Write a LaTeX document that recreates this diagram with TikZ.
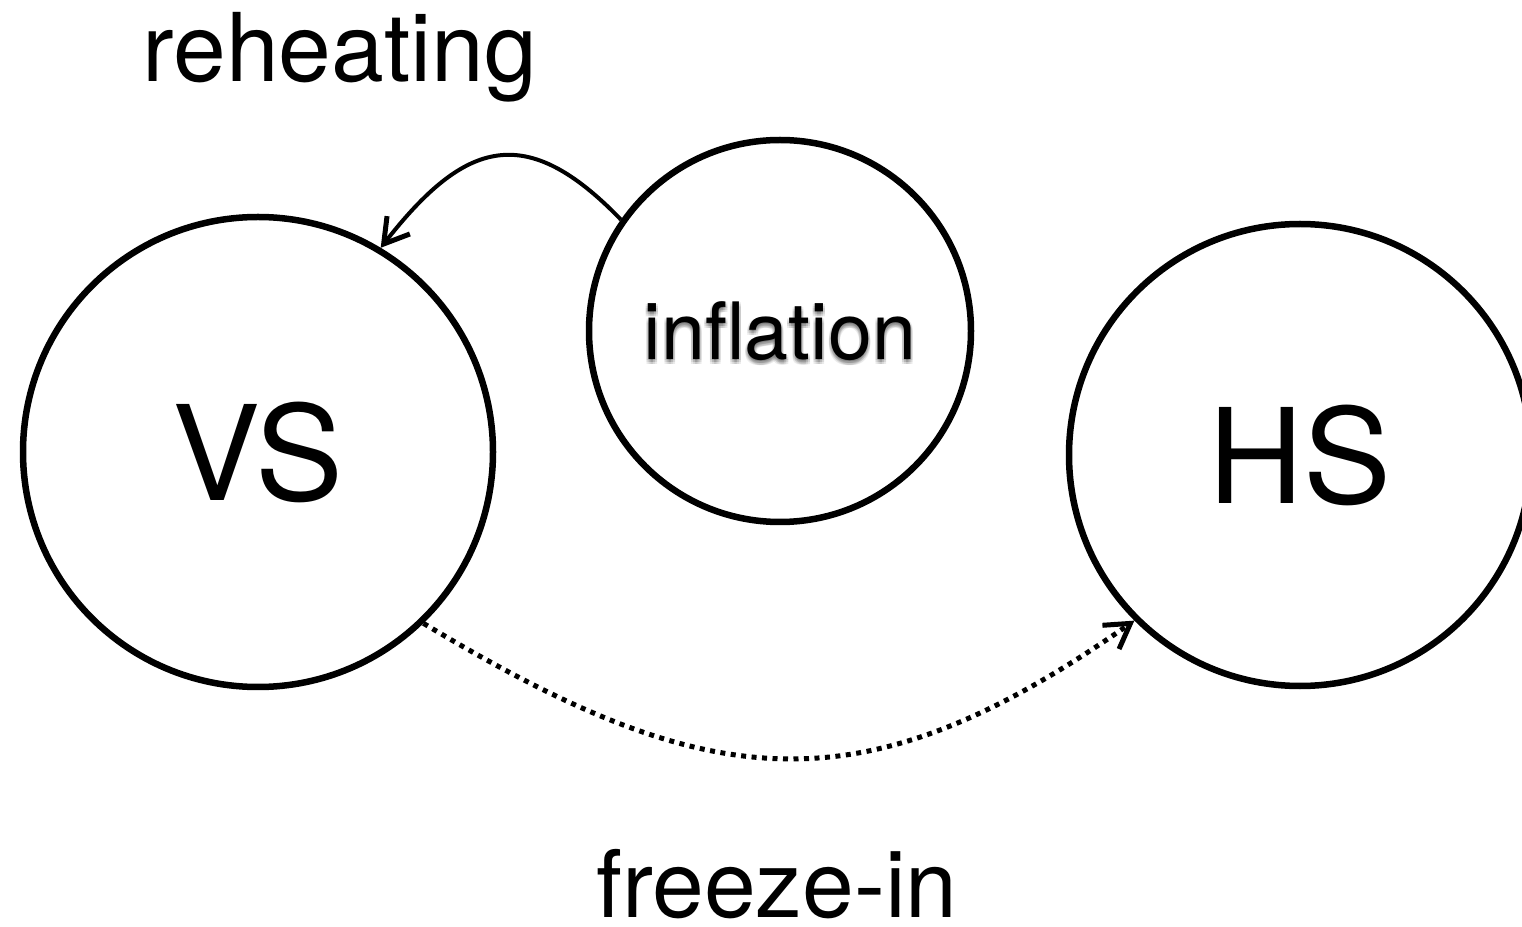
\documentclass[tikz,border=0pt]{standalone}
\usepackage{fontspec}
\setmainfont{TeX Gyre Heros}
\usetikzlibrary{arrows.meta}

\tikzset{
  sector/.style={draw, circle, line width=0.13cm, inner sep=0pt},
  barb/.style={-{Straight Barb[length=0.48cm, width=0.58cm, line width=0.1cm]}},
}

\begin{document}
\begin{tikzpicture}

\useasboundingbox (0,0) rectangle (30.44,-18.54);

% Ombre
\foreach \dx/\dy [count=\i] in {
0/0.06,0.04/0.06,-0.04/0.06,
0/0.11,0.04/0.1,-0.04/0.1,
0/0.02,0.04/0.03,-0.04/0.03
}
{
    \node[text=black, opacity=0.08, font=\fontsize{45}{45}\selectfont]
    (shd\i) at (15.6+\dx,-6.62-\dy) {inflation};
}

% Secteurs
\node[sector, minimum size=9.4cm, font=\fontsize{75}{75}\selectfont]
(vs) at (5.16,-9.04) {VS};

\node[sector, minimum size=7.64cm, font=\fontsize{45}{45}\selectfont]
(infl) at (15.6,-6.62) {inflation};

\node[sector, minimum size=9.24cm, font=\fontsize{75}{75}\selectfont]
(hs) at (26.0,-9.1) {HS};

% Fleches
\draw[line width=0.08cm, barb]
(infl.145) to[out=134, in=52, looseness=1.45] (vs.59);

\draw[line width=0.1cm, dash pattern=on 0.1cm off 0.11cm, barb]
(vs.-46) to[out=-31, in=215, looseness=1.2] (hs.225);

% Textes
\node[anchor=base, inner sep=0pt, font=\fontsize{54}{54}\selectfont]
(reh) at (6.8,-1.64) {reheating};

\node[anchor=base, inner sep=0pt, font=\fontsize{53}{53}\selectfont]
(frz) at (15.54,-18.34) {freeze-in};

\end{tikzpicture}
\end{document}
